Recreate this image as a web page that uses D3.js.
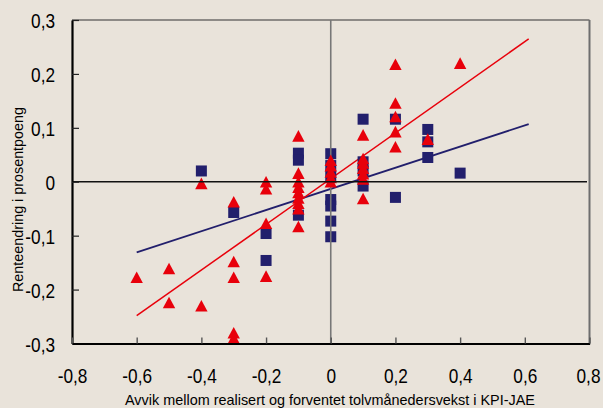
<!DOCTYPE html>
<html>
<head>
<meta charset="utf-8">
<script src="https://cdn.jsdelivr.net/npm/d3@7/dist/d3.min.js"></script>
<style>
  html, body { margin: 0; padding: 0; background: #e9e3da; }
  svg { display: block; }
  text { font-family: "Liberation Sans", Arial, sans-serif; fill: #000; }
</style>
</head>
<body>
<svg id="chart" width="603" height="408"></svg>
<script>
// ---- Data ----
const xTicks = [-0.8, -0.6, -0.4, -0.2, 0, 0.2, 0.4, 0.6, 0.8];
const xTickLabels = ["-0,8", "-0,6", "-0,4", "-0,2", "0", "0,2", "0,4", "0,6", "0,8"];
const yTicks = [-0.3, -0.2, -0.1, 0, 0.1, 0.2, 0.3];
const yTickLabels = ["-0,3", "-0,2", "-0,1", "0", "0,1", "0,2", "0,3"];

const xTitle = "Avvik mellom realisert og forventet tolvmånedersvekst i KPI-JAE";
const yTitle = "Renteendring i prosentpoeng";

// Red triangles
const redX = [-0.6, -0.5, -0.5, -0.4, -0.4, -0.3, -0.3, -0.3, -0.3, -0.3,
              -0.2, -0.2, -0.2, -0.2,
              -0.1, -0.1, -0.1, -0.1, -0.1, -0.1, -0.1, -0.1, -0.1,
              0, 0, 0, 0, 0,
              0.1, 0.1, 0.1, 0.1, 0.1, 0.1, 0.1,
              0.2, 0.2, 0.2, 0.2, 0.2,
              0.3, 0.4];
const redY = [-0.177, -0.161, -0.224, -0.003, -0.23, -0.037, -0.148, -0.177, -0.28, -0.29,
              0.0, -0.013, -0.077, -0.175,
              0.085, 0.016, 0.0, -0.01, -0.02, -0.03, -0.04, -0.05, -0.083,
              0.04, 0.03, 0.018, 0.008, 0.0,
              0.087, 0.043, 0.035, 0.025, 0.015, 0.005, -0.031,
              0.218, 0.146, 0.121, 0.093, 0.065,
              0.079, 0.22];

// Blue squares
const blueX = [-0.4, -0.3, -0.2, -0.2, -0.1, -0.1, -0.1,
               0, 0, 0, 0, 0, 0, 0,
               0.1, 0.1, 0.1, 0.1,
               0.2, 0.2, 0.3, 0.3, 0.3, 0.4];
const blueY = [0.02, -0.057, -0.096, -0.146, 0.053, 0.04, -0.062,
               0.052, 0.03, 0.01, -0.033, -0.045, -0.073, -0.102,
               0.116, 0.037, 0.02, -0.008,
               0.116, -0.029, 0.097, 0.074, 0.045, 0.016];

// Trend lines (endpoints)
const redLineX = [-0.6, 0.612];
const redLineY = [-0.2485, 0.265];
const blueLineX = [-0.6, 0.612];
const blueLineY = [-0.131, 0.107];

// ---- Drawing ----
const RED = "#e8000b";
const BLUE = "#221f6c";
const mLeft = 72, mRight = 589.5, mTop = 20, mBottom = 343.5;

const svg = d3.select("#chart");
svg.append("rect").attr("width", 603).attr("height", 408).attr("fill", "#e9e3da");

const x = d3.scaleLinear().domain([-0.8, 0.8]).range([mLeft, mRight]);
const y = d3.scaleLinear().domain([-0.3, 0.3]).range([mBottom, mTop]);

// top and right frame
svg.append("line").attr("x1", mLeft).attr("x2", mRight).attr("y1", mTop).attr("y2", mTop)
  .attr("stroke", "#333").attr("stroke-width", 1.2);
svg.append("line").attr("x1", mRight).attr("x2", mRight).attr("y1", mTop).attr("y2", mBottom + 1)
  .attr("stroke", "#6e6e6e").attr("stroke-width", 2);

// trend lines
const lineGen = d3.line().x(d => x(d[0])).y(d => y(d[1]));
svg.append("path").datum(blueLineX.map((v, i) => [v, blueLineY[i]]))
  .attr("d", lineGen).attr("fill", "none").attr("stroke", BLUE).attr("stroke-width", 1.8);
svg.append("path").datum(redLineX.map((v, i) => [v, redLineY[i]]))
  .attr("d", lineGen).attr("fill", "none").attr("stroke", RED).attr("stroke-width", 1.5);

// squares
const sq = 11;
svg.append("g").selectAll("rect").data(blueX.map((v, i) => [v, blueY[i]])).join("rect")
  .attr("x", d => x(d[0]) - sq / 2).attr("y", d => y(d[1]) - sq / 2)
  .attr("width", sq).attr("height", sq).attr("fill", BLUE);

// vertical zero line
svg.append("line").attr("x1", x(0)).attr("x2", x(0)).attr("y1", mTop).attr("y2", mBottom)
  .attr("stroke", "#777").attr("stroke-width", 1.6);

// triangles
svg.append("g").selectAll("path").data(redX.map((v, i) => [v, redY[i]])).join("path")
  .attr("transform", d => `translate(${x(d[0])},${y(d[1])})`)
  .attr("d", "M-6.2,5.8L6.2,5.8L0,-5.8Z").attr("fill", RED);

// horizontal zero line
svg.append("line").attr("x1", mLeft).attr("x2", mRight - 2.5).attr("y1", y(0)).attr("y2", y(0))
  .attr("stroke", "#111").attr("stroke-width", 1.5);

// y axis
const yAxis = d3.axisLeft(y).tickValues(yTicks)
  .tickFormat((d, i) => yTickLabels[i]).tickSizeInner(-7).tickSizeOuter(0).tickPadding(17);
const gy = svg.append("g").attr("transform", `translate(${mLeft},0)`).call(yAxis);
gy.select(".domain").attr("stroke", "#000").attr("stroke-width", 2.2);
gy.selectAll(".tick line").attr("stroke", "#222").attr("stroke-width", 1.2);
gy.selectAll(".tick text").attr("font-size", 21).attr("dy", "0.36em")
  .attr("font-family", "Liberation Sans, Arial, sans-serif");

// x axis
const xAxis = d3.axisBottom(x).tickValues(xTicks)
  .tickFormat((d, i) => xTickLabels[i]).tickSizeInner(-6).tickSizeOuter(0).tickPadding(24);
const gx = svg.append("g").attr("transform", `translate(0,${mBottom})`).call(xAxis);
gx.select(".domain").attr("stroke", "#000").attr("stroke-width", 2.2);
gx.selectAll(".tick line").attr("stroke", "#555").attr("stroke-width", 1.4);
gx.selectAll(".tick text").attr("font-size", 21).attr("dy", "0.72em")
  .attr("font-family", "Liberation Sans, Arial, sans-serif");

// condense tick labels (narrow font look)
svg.selectAll(".tick text").each(function () {
  const w = this.getComputedTextLength();
  d3.select(this).attr("textLength", w * 0.82).attr("lengthAdjust", "spacingAndGlyphs");
});
// keep the last x label inside the picture
gx.selectAll(".tick text").filter((d, i) => i === xTicks.length - 1).attr("dx", -1.5);

// axis titles
svg.append("text").attr("x", (125 + 535) / 2).attr("y", 405)
  .attr("text-anchor", "middle").attr("font-size", 14.4).text(xTitle)
  .attr("textLength", 410).attr("lengthAdjust", "spacingAndGlyphs");

svg.append("text").attr("transform", `translate(23,199.5) rotate(-90)`)
  .attr("text-anchor", "middle").attr("font-size", 15.5).text(yTitle)
  .attr("textLength", 185).attr("lengthAdjust", "spacingAndGlyphs");
</script>
</body>
</html>
